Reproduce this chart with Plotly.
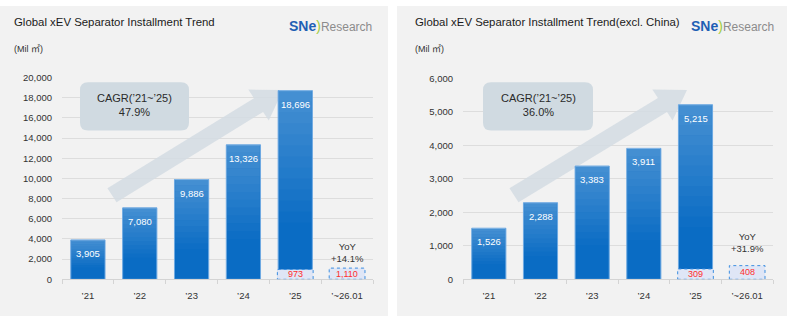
import plotly.graph_objects as go

W, H = 787, 321

# ---------------- data ----------------
categories = ["\u201921", "\u201922", "\u201923", "\u201924", "\u201925", "\u2019~26.01"]
global_total = [3905, 7080, 9886, 13326, 18696]
global_jan = [973, 1110]          # '25 Jan portion, '~26.01
excl_total = [1526, 2288, 3383, 3911, 5215]
excl_jan = [309, 408]
jan_idx = [4, 5]
cagr_label = "CAGR(\u201921~\u201925)"
cagr_global = "47.9%"
cagr_excl = "36.0%"
yoy_global = "+14.1%"
yoy_excl = "+31.9%"
title_global = "Global xEV Separator Installment Trend"
title_excl = "Global xEV Separator Installment Trend(excl. China)"
unit_label = "(Mil \u33a1)"
y_ticks_global = [0, 2000, 4000, 6000, 8000, 10000, 12000, 14000, 16000, 18000, 20000]
y_ticks_excl = [0, 1000, 2000, 3000, 4000, 5000, 6000]

FONT = "Liberation Sans, Arial, Noto Sans CJK KR, sans-serif"
BAR = "#0a6cc4"
BAR_EDGE = "#6ea9e2"
BOX_FILL = "#dfe6f6"
BOX_LINE = "#3d8ee0"
RED = "#ff2d2d"
TXT = "#333333"
GRID = "#dddddd"
BAR_W = 0.66

# panel geometry in pixels
panels = [
    dict(bg=(0, 388), ax=(62, 373), ytop=74, ybase=283, ymax=20000, ticks=y_ticks_global,
         totals=global_total, jan=global_jan, title=title_global, cagr=cagr_global, yoy=yoy_global,
         xr="x", yr="y", title_x=12, logo_x=287, cagr_box=(80, 79, 189, 129),
         arrow=((112, 196), (283, 87)), yoy_y=255),
    dict(bg=(397, 787), ax=(463, 773), ytop=75, ybase=283, ymax=6000, ticks=y_ticks_excl,
         totals=excl_total, jan=excl_jan, title=title_excl, cagr=cagr_excl, yoy=yoy_excl,
         xr="x2", yr="y2", title_x=413, logo_x=689, cagr_box=(483, 79, 593, 129),
         arrow=((514, 196), (687, 87)), yoy_y=245),
]

fig = go.Figure()
shapes = []
annotations = []


def pp(px, py):
    return px / W, 1 - py / H


for k, p in enumerate(panels):
    sfx = "" if k == 0 else "2"
    x0px, x1px = p["ax"]
    step = (x1px - x0px) / len(categories)
    ppu = (p["ybase"] - p["ytop"]) / p["ymax"]

    def dx(px, x0px=x0px, step=step):
        return (px - x0px) / step - 0.5

    def dy(py, ppu=ppu, base=p["ybase"]):
        return (base - py) / ppu

    # panel background
    shapes.append(dict(type="rect", xref="paper", yref="paper",
                       x0=p["bg"][0] / W, x1=p["bg"][1] / W, y0=0, y1=1,
                       fillcolor="#f2f2f2", line=dict(width=0), layer="below"))

    # bars
    fig.add_trace(go.Bar(x=categories[:len(p["totals"])], y=p["totals"],
                         xaxis=p["xr"], yaxis=p["yr"], width=BAR_W,
                         marker=dict(color=BAR, line=dict(color=BAR_EDGE, width=1)),
                         hoverinfo="skip", showlegend=False))
    # vertical light gradient overlay on each bar (top lighter)
    nstr = 12
    for i, v in enumerate(p["totals"]):
        for s in range(nstr):
            f0 = 1 - (s + 1) / nstr * 0.7
            f1 = 1 - s / nstr * 0.7
            op = 0.24 * (1 - s / nstr)
            shapes.append(dict(type="rect", xref=p["xr"], yref=p["yr"],
                               x0=i - BAR_W / 2 + 0.012, x1=i + BAR_W / 2 - 0.012,
                               y0=v * f0, y1=v * f1, fillcolor="white", opacity=op,
                               line=dict(width=0), layer="above"))
    for c, v in zip(categories, p["totals"]):
        annotations.append(dict(x=c, y=v, xref=p["xr"], yref=p["yr"], text=f"{v:,}",
                                showarrow=False, xanchor="center", yanchor="top", yshift=-6,
                                font=dict(color="white", size=9.5, family=FONT)))

    # January boxes
    for i, v in zip(jan_idx, p["jan"]):
        shapes.append(dict(type="rect", xref=p["xr"], yref=p["yr"],
                           x0=i - 0.345, x1=i + 0.345, y0=0, y1=v,
                           fillcolor=BOX_FILL, line=dict(color=BOX_LINE, width=1, dash="dot"),
                           layer="above"))
        annotations.append(dict(x=categories[i], y=v / 2, xref=p["xr"], yref=p["yr"],
                                text=f"{v:,}", showarrow=False, xanchor="center", yanchor="middle",
                                font=dict(color=RED, size=9, family=FONT)))

    # YoY note
    annotations.append(dict(x=categories[5], xref=p["xr"], y=pp(0, p["yoy_y"])[1], yref="paper",
                            text=f"YoY<br>{p['yoy']}", showarrow=False,
                            xanchor="center", yanchor="middle",
                            font=dict(color=TXT, size=9.5, family=FONT)))

    # arrow (decorative) in data coords
    (sx, sy), (tx, ty) = p["arrow"]
    L = ((tx - sx) ** 2 + (ty - sy) ** 2) ** 0.5
    ux, uy = (tx - sx) / L, (ty - sy) / L
    nx, ny = -uy, ux
    w, hw, hl = 17, 38, 29
    bx, by = tx - ux * hl, ty - uy * hl
    pts = [(sx + nx * w / 2, sy + ny * w / 2), (bx + nx * w / 2, by + ny * w / 2),
           (bx + nx * hw / 2, by + ny * hw / 2), (tx, ty),
           (bx - nx * hw / 2, by - ny * hw / 2), (bx - nx * w / 2, by - ny * w / 2),
           (sx - nx * w / 2, sy - ny * w / 2)]
    path = "M " + " L ".join(f"{dx(a):.4f},{dy(b):.2f}" for a, b in pts) + " Z"
    shapes.append(dict(type="path", xref=p["xr"], yref=p["yr"], path=path,
                       fillcolor="#d3dce3", opacity=0.85, line=dict(width=0), layer="between"))

    # CAGR rounded box
    bx0, by0, bx1, by1 = p["cagr_box"]
    r = 8
    seg = [("M", [(bx0 + r, by0)]), ("L", [(bx1 - r, by0)]), ("Q", [(bx1, by0), (bx1, by0 + r)]),
           ("L", [(bx1, by1 - r)]), ("Q", [(bx1, by1), (bx1 - r, by1)]), ("L", [(bx0 + r, by1)]),
           ("Q", [(bx0, by1), (bx0, by1 - r)]), ("L", [(bx0, by0 + r)]), ("Q", [(bx0, by0), (bx0 + r, by0)])]
    rpath = " ".join(cmd + " " + " ".join(f"{dx(a):.4f},{dy(b):.2f}" for a, b in q) for cmd, q in seg) + " Z"
    shapes.append(dict(type="path", xref=p["xr"], yref=p["yr"], path=rpath,
                       fillcolor="#d0dae1", line=dict(width=0), layer="between"))
    cxp, cyp = pp((bx0 + bx1) / 2, (by0 + by1) / 2 - 1)
    annotations.append(dict(x=cxp, y=cyp, xref="paper", yref="paper",
                            text=f"{cagr_label}<br>{p['cagr']}", showarrow=False,
                            xanchor="center", yanchor="middle",
                            font=dict(color="#2a2a2a", size=11, family=FONT)))

    # title, unit, logo
    tx_, ty_ = pp(p["title_x"], 17)
    annotations.append(dict(x=tx_, y=ty_, xref="paper", yref="paper", text=p["title"],
                            showarrow=False, xanchor="left", yanchor="middle",
                            font=dict(color="#1a1a1a", size=11.4, family=FONT)))
    ux_, uy_ = pp(p["title_x"], 45)
    annotations.append(dict(x=ux_, y=uy_, xref="paper", yref="paper", text=unit_label,
                            showarrow=False, xanchor="left", yanchor="middle",
                            font=dict(color=TXT, size=9, family=FONT)))
    lx_, ly_ = pp(p["logo_x"], 21)
    annotations.append(dict(x=lx_, y=ly_, xref="paper", yref="paper",
                            text='<b><span style="color:#1f5fb4;font-size:14px">SNe</span></b>'
                                 '<span style="color:#9ccc3c;font-size:14px">)</span>'
                                 '<span style="color:#8c8c8c;font-size:12px">Research</span>',
                            showarrow=False, xanchor="left", yanchor="middle",
                            font=dict(size=12, family=FONT)))

    # axes
    fig.update_layout(**{
        "xaxis" + sfx: dict(domain=[x0px / W, x1px / W], anchor="y" + sfx, type="category",
                            categoryorder="array", categoryarray=categories, range=[-0.5, 5.5],
                            showgrid=False, showline=True, linecolor="#d4d4d4", linewidth=1,
                            ticks="outside", tickson="boundaries", ticklen=4, tickcolor="#d4d4d4",
                            tickfont=dict(size=9.5, color=TXT, family=FONT), ticklabelstandoff=7,
                            fixedrange=True),
        "yaxis" + sfx: dict(domain=[(H - p["ybase"]) / H, (H - p["ytop"]) / H], anchor="x" + sfx,
                            range=[0, p["ymax"]], tickvals=p["ticks"], tickformat=",",
                            showgrid=True, gridcolor=GRID, gridwidth=1, zeroline=False,
                            showline=False, ticks="", ticklabelstandoff=9,
                            tickfont=dict(size=9.5, color=TXT, family=FONT), fixedrange=True),
    })

fig.update_layout(width=W, height=H, margin=dict(l=0, r=0, t=0, b=0),
                  paper_bgcolor="white", plot_bgcolor="rgba(0,0,0,0)",
                  shapes=shapes, annotations=annotations, bargap=0.34,
                  font=dict(family=FONT), showlegend=False)

fig.write_html("out.html", config={"displayModeBar": False})
